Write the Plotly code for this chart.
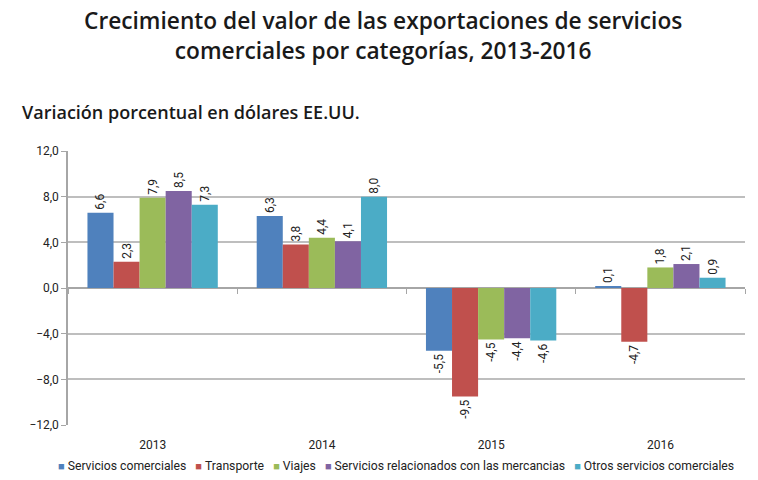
import plotly.graph_objects as go

years = ["2013", "2014", "2015", "2016"]
series_names = [
    "Servicios comerciales",
    "Transporte",
    "Viajes",
    "Servicios relacionados con las mercancias",
    "Otros servicios comerciales",
]
servicios_comerciales = [6.6, 6.3, -5.5, 0.1]
transporte = [2.3, 3.8, -9.5, -4.7]
viajes = [7.9, 4.4, -4.5, 1.8]
relacionados = [8.5, 4.1, -4.4, 2.1]
otros = [7.3, 8.0, -4.6, 0.9]
tick_vals = [-12, -8, -4, 0, 4, 8, 12]

colors = ["#4F81BD", "#C0504D", "#9BBB59", "#8064A2", "#4BACC6"]
values = [servicios_comerciales, transporte, viajes, relacionados, otros]

lab = "Roboto"
axis_grey = "#A6A6A6"

fig = go.Figure()
for name, vals, col in zip(series_names, values, colors):
    fig.add_trace(go.Bar(
        x=years, y=vals, name=name, showlegend=False,
        marker=dict(color=col, line=dict(width=0)),
        texttemplate="%{y:.1f}", textposition="outside", textangle=-90,
        textfont=dict(family=lab, size=12, color="#222"),
        cliponaxis=False,
    ))

# helper (no marks) so the category-boundary tick axis at zero gets drawn
fig.add_trace(go.Scatter(x=years, y=[None] * len(years), xaxis="x2", mode="markers",
                         showlegend=False, hoverinfo="skip"))

sep = "\u00a0\u00a0\u00a0"
legend_text = sep.join(
    f'<span style="color:{c};font-size:11px">■</span>\u00a0{n}'
    for n, c in zip(series_names, colors)
)

fig.update_layout(
    width=750, height=472,
    separators=",.",
    barmode="group", bargap=0.23, bargroupgap=0,
    plot_bgcolor="white", paper_bgcolor="white",
    margin=dict(l=60, r=13, t=143, b=55, autoexpand=False),
    font=dict(family=lab, size=12, color="#222"),
    uniformtext=dict(minsize=11, mode="show"),
    xaxis=dict(ticks="outside", ticklen=9, tickcolor="rgba(0,0,0,0)",
               tickfont=dict(family=lab, size=12), fixedrange=True, showline=False),
    xaxis2=dict(overlaying="x", matches="x", anchor="free", position=0.5, side="bottom",
                showticklabels=False, ticks="outside", tickson="boundaries", ticklen=5,
                tickcolor=axis_grey, showgrid=False, showline=False, zeroline=False,
                fixedrange=True),
    annotations=[
        dict(text="Crecimiento del valor de las exportaciones de servicios<br>comerciales por categorías, 2013-2016",
             xref="paper", yref="paper", x=0.465, y=1.0, yshift=116, xanchor="center", yanchor="middle",
             showarrow=False, font=dict(family="Open Sans", size=22.7, color="#1a1a1a", weight=600),
             align="center"),
        dict(text="Variación porcentual en dólares EE.UU.",
             xref="paper", yref="paper", x=0, xshift=-48, y=1.0, yshift=39,
             xanchor="left", yanchor="middle",
             showarrow=False, font=dict(family="Open Sans", size=18, color="#1a1a1a", weight=600)),
        dict(text=legend_text,
             xref="paper", yref="paper", x=0.485, y=0, yshift=-41,
             xanchor="center", yanchor="middle", showarrow=False,
             font=dict(family=lab, size=12.2, color="#222")),
    ],
)
fig.update_yaxes(range=[-12, 12], tickvals=tick_vals, tickformat=".1f",
                 showgrid=True, gridcolor="#BEBEBE", gridwidth=1.5,
                 zeroline=True, zerolinecolor=axis_grey, zerolinewidth=1.5,
                 showline=True, linecolor=axis_grey, linewidth=1.5,
                 ticks="outside", ticklen=5, tickcolor=axis_grey,
                 tickfont=dict(family=lab, size=12), fixedrange=True)

fig.write_html("out.html")
